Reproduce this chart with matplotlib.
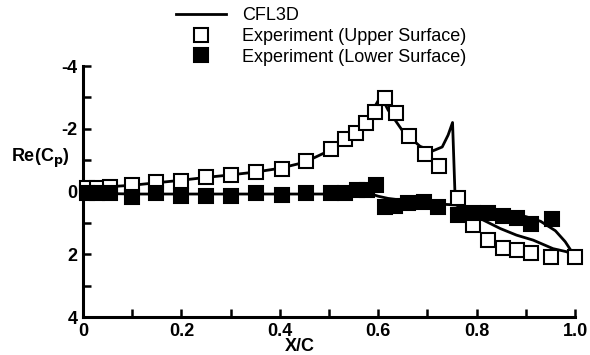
import matplotlib.pyplot as plt
from matplotlib.ticker import MultipleLocator

# Experiment, upper surface
x_up = [0.008, 0.028, 0.055, 0.099, 0.148, 0.199, 0.249, 0.300, 0.352, 0.404,
        0.453, 0.504, 0.533, 0.554, 0.575, 0.593, 0.614, 0.636, 0.663, 0.694,
        0.724, 0.763, 0.792, 0.823, 0.853, 0.882, 0.911, 0.951, 1.000]
cp_up = [-0.12, -0.12, -0.16, -0.20, -0.29, -0.35, -0.47, -0.52, -0.61, -0.72,
         -0.98, -1.36, -1.66, -1.88, -2.20, -2.52, -2.99, -2.51, -1.78, -1.21,
         -0.81, 0.20, 1.08, 1.55, 1.80, 1.85, 1.96, 2.09, 2.10]

# Experiment, lower surface
x_lo = [0.008, 0.028, 0.055, 0.099, 0.148, 0.199, 0.249, 0.300, 0.352, 0.404,
        0.453, 0.504, 0.533, 0.556, 0.577, 0.596, 0.614, 0.634, 0.661, 0.693,
        0.722, 0.763, 0.793, 0.823, 0.853, 0.881, 0.911, 0.953]
cp_lo = [0.06, 0.06, 0.06, 0.17, 0.06, 0.14, 0.14, 0.14, 0.06, 0.10,
         0.06, 0.06, 0.06, -0.04, -0.04, -0.22, 0.49, 0.46, 0.38, 0.33,
         0.49, 0.76, 0.70, 0.70, 0.78, 0.84, 1.02, 0.86]

# CFL3D, upper surface
x_cfd_up = [0.0, 0.05, 0.10, 0.15, 0.20, 0.25, 0.30, 0.35, 0.40, 0.45, 0.50,
            0.55, 0.58, 0.60, 0.605, 0.62, 0.65, 0.685, 0.71, 0.73, 0.742,
            0.751, 0.756, 0.76, 0.807, 0.848, 0.881, 0.915, 0.955, 0.983, 1.0]
cp_cfd_up = [-0.15, -0.15, -0.20, -0.28, -0.36, -0.45, -0.53, -0.62, -0.74,
             -0.93, -1.30, -1.85, -2.35, -2.90, -3.05, -2.60, -1.92, -1.44,
             -1.29, -1.42, -1.80, -2.20, 0.10, 0.44, 0.86, 1.18, 1.39, 1.55,
             1.82, 1.92, 2.08]

# CFL3D, lower surface
x_cfd_lo = [0.0, 0.10, 0.30, 0.50, 0.58, 0.60, 0.62, 0.70, 0.76, 0.80, 0.85,
            0.90, 0.93, 0.96, 0.98, 1.0]
cp_cfd_lo = [0.05, 0.08, 0.08, 0.08, 0.05, 0.15, 0.22, 0.38, 0.43, 0.53,
             0.65, 0.80, 0.95, 1.25, 1.60, 2.08]

plt.rcParams['font.family'] = ['Liberation Sans', 'DejaVu Sans']

fig = plt.figure(figsize=(5.9, 3.55), dpi=100)
ax = fig.add_axes([0.1407, 0.107, 0.834, 0.707])

line, = ax.plot(x_cfd_up, cp_cfd_up, color='black', lw=2, label='CFL3D',
                zorder=2, clip_on=False)
ax.plot(x_cfd_lo, cp_cfd_lo, color='black', lw=2, zorder=2, clip_on=False)
up, = ax.plot(x_up, cp_up, 's', ms=10, mfc='white', mec='black', mew=1.5,
              label='Experiment (Upper Surface)', zorder=3, clip_on=False)
lo, = ax.plot(x_lo, cp_lo, 's', ms=10, mfc='black', mec='black', mew=1.5,
              label='Experiment (Lower Surface)', zorder=3, clip_on=False)

ax.set_xlim(0, 1.0)
ax.set_ylim(4, -4)
ax.spines['top'].set_visible(False)
ax.spines['right'].set_visible(False)
ax.spines['left'].set_linewidth(2.2)
ax.spines['bottom'].set_linewidth(2.2)

ax.xaxis.set_minor_locator(MultipleLocator(0.1))
ax.yaxis.set_minor_locator(MultipleLocator(1))
ax.set_xticks([0, 0.2, 0.4, 0.6, 0.8, 1.0])
ax.set_xticklabels(['0', '0.2', '0.4', '0.6', '0.8', '1.0'])
ax.set_yticks([-4, -2, 0, 2, 4])
ax.set_yticklabels(['-4', '-2', '0', '2', '4'])
ax.tick_params(which='both', direction='in', width=1.8, length=6)
ax.tick_params(which='major', labelsize=13, pad=4)
for lab in ax.get_xticklabels() + ax.get_yticklabels():
    lab.set_fontweight('bold')

ax.text(-0.028, -1.05, r'Re(C$_\mathbf{p}$)', transform=ax.transData,
        ha='right', va='center', fontsize=13, fontweight='bold')
ax.text(0.44, -0.118, 'X/C', transform=ax.get_xaxis_transform(),
        ha='center', va='center', fontsize=13, fontweight='bold')

fig.legend(handles=[line, up, lo], loc='upper left',
           bbox_to_anchor=(0.27, 1.025), frameon=False, fontsize=13,
           handlelength=2.8, handletextpad=0.9, labelspacing=0.2)

fig.savefig('out.png', dpi=100)
